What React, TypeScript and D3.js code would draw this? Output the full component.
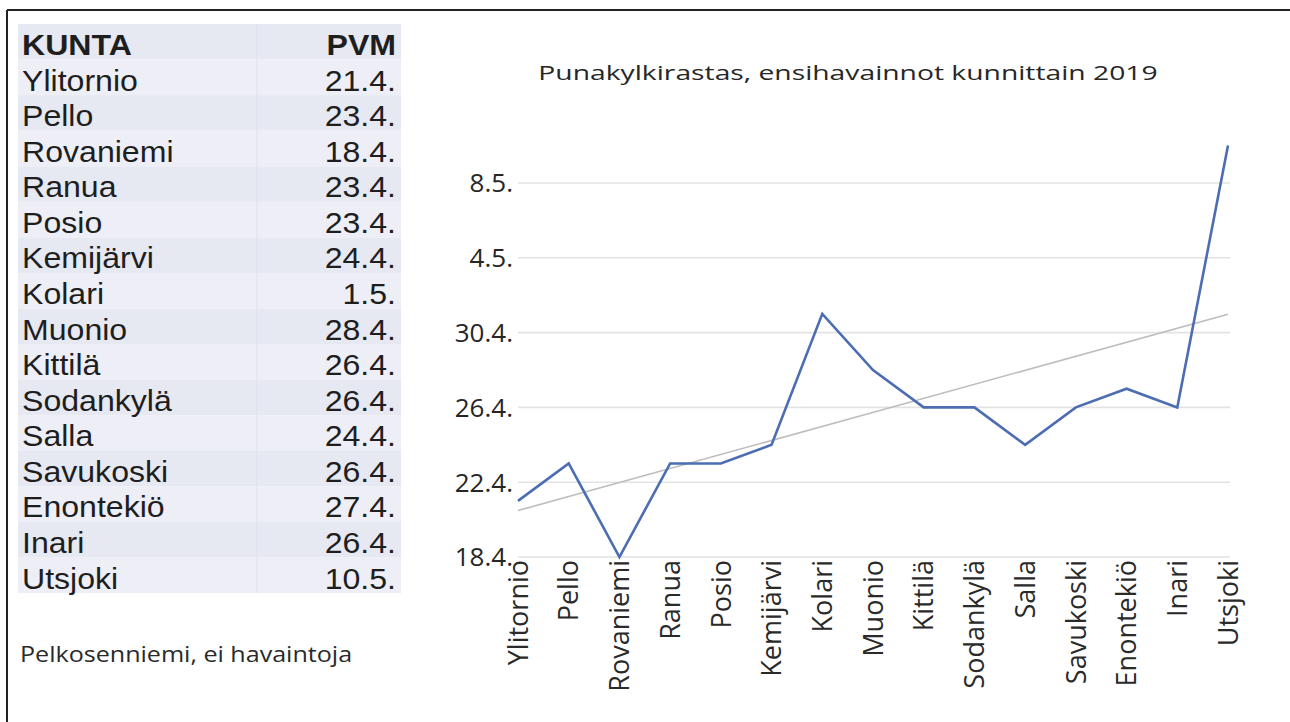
import React from "react";
import * as d3 from "d3";

const tableHeader = ["KUNTA", "PVM"];
const municipalities = [
  "Ylitornio", "Pello", "Rovaniemi", "Ranua", "Posio", "Kemijärvi", "Kolari", "Muonio",
  "Kittilä", "Sodankylä", "Salla", "Savukoski", "Enontekiö", "Inari", "Utsjoki",
];
const firstSightings = [
  "21.4.", "23.4.", "18.4.", "23.4.", "23.4.", "24.4.", "1.5.", "28.4.",
  "26.4.", "26.4.", "24.4.", "26.4.", "27.4.", "26.4.", "10.5.",
];
const yTickLabels = ["18.4.", "22.4.", "26.4.", "30.4.", "4.5.", "8.5."];
const chartTitle = "Punakylkirastas, ensihavainnot kunnittain 2019";
const noteText = "Pelkosenniemi, ei havaintoja";
const YEAR = 2019;

const W = 1290;
const H = 722;
const parse = d3.timeParse("%d.%m.%Y");
const toDate = (s: string) => parse(s + YEAR) as Date;
const fmt = d3.timeFormat("%-d.%-m.");

const TABLE_FONT = "'Liberation Sans', Arial, sans-serif";
const CHART_FONT = "'Open Sans', sans-serif";

export default function App() {
  const dates = firstSightings.map(toDate);
  const x = d3.scalePoint<string>().domain(municipalities).range([518, 1228]);
  const y = d3
    .scaleTime()
    .domain([toDate(yTickLabels[0]), toDate(yTickLabels[yTickLabels.length - 1])])
    .range([557, 183]);
  const yTicks = yTickLabels.map(toDate);

  const linePath = d3
    .line<Date>()
    .x((_, i) => x(municipalities[i]) as number)
    .y((d) => y(d))(dates) as string;

  // linear trend line (least squares on category index)
  const xs = municipalities.map((_, i) => i);
  const ys = dates.map((d) => +d);
  const mx = d3.mean(xs) as number;
  const my = d3.mean(ys) as number;
  const slope =
    d3.sum(xs, (xi, i) => (xi - mx) * (ys[i] - my)) / d3.sum(xs, (xi) => (xi - mx) ** 2);
  const trendEnds = [0, municipalities.length - 1];
  const trendPath = d3
    .line<number>()
    .x((i) => x(municipalities[i]) as number)
    .y((i) => y(new Date(my + slope * (i - mx))))(trendEnds) as string;

  const rowH = 35.57;
  const rowTop0 = 24;
  const rows = [tableHeader, ...municipalities.map((m, i) => [m, firstSightings[i]])];
  const [gx0, gx1] = x.range();

  return (
    <div style={{ position: "absolute", left: 0, top: 0 }}>
      <svg width={W} height={H} style={{ display: "block", background: "#fff" }}>
        {/* frame */}
        <line x1={7} y1={10} x2={W} y2={10} stroke="#222" strokeWidth={2} />
        <line x1={7} y1={10} x2={7} y2={H} stroke="#222" strokeWidth={2} />

        {/* table */}
        <g>
          {rows.map((r, i) => (
            <rect
              key={"b" + i}
              x={18}
              y={rowTop0 + i * rowH}
              width={383}
              height={rowH}
              fill={i % 2 === 0 ? "#E6E8F2" : "#EDEEF6"}
            />
          ))}
          <line
            x1={257}
            x2={257}
            y1={rowTop0}
            y2={rowTop0 + rows.length * rowH}
            stroke="#DFE1EC"
            strokeWidth={1}
          />
          {rows.map((r, i) => {
            const base = rowTop0 + i * rowH + 31;
            const bold = i === 0;
            return (
              <g key={"t" + i} fontFamily={TABLE_FONT} fontSize={30} fill="#1e1e1e" fontWeight={bold ? 700 : 400}>
                <text transform={`translate(22,${base}) scale(1.07,1)`}>{r[0]}</text>
                <text transform={`translate(396,${base}) scale(1.07,1)`} textAnchor="end">
                  {r[1]}
                </text>
              </g>
            );
          })}
        </g>

        {/* note */}
        <text
          transform={`translate(20,662) scale(1.14,1)`}
          fontFamily={CHART_FONT}
          fontSize={22}
          fill="#2a2a2a"
        >
          {noteText}
        </text>

        {/* chart title */}
        <text
          transform={`translate(848,80) scale(1.4,1)`}
          textAnchor="middle"
          fontFamily={CHART_FONT}
          fontSize={20.2}
          fill="#262626"
        >
          {chartTitle}
        </text>

        {/* gridlines */}
        {yTicks.map((t, i) => (
          <line
            key={"g" + i}
            x1={gx0}
            x2={gx1 + 2}
            y1={y(t)}
            y2={y(t)}
            stroke="#E3E3E3"
            strokeWidth={1.6}
          />
        ))}

        {/* y tick labels */}
        {yTicks.map((t, i) => (
          <text
            key={"yl" + i}
            x={513}
            y={y(t)}
            dy="0.36em"
            textAnchor="end"
            fontFamily={CHART_FONT}
            fontSize={26}
            fill="#262626"
          >
            {fmt(t)}
          </text>
        ))}

        {/* trend line */}
        <path d={trendPath} fill="none" stroke="#BDBDBD" strokeWidth={1.6} />

        {/* data line */}
        <path
          d={linePath}
          fill="none"
          stroke="#4C6DB2"
          strokeWidth={2.6}
          strokeLinejoin="miter"
        />

        {/* x labels */}
        {municipalities.map((m) => (
          <text
            key={"xl" + m}
            transform={`translate(${x(m)},560) rotate(-90)`}
            dy="0.36em"
            textAnchor="end"
            fontFamily={CHART_FONT}
            fontSize={27}
            fill="#2a2a2a"
          >
            {m}
          </text>
        ))}
      </svg>
    </div>
  );
}
